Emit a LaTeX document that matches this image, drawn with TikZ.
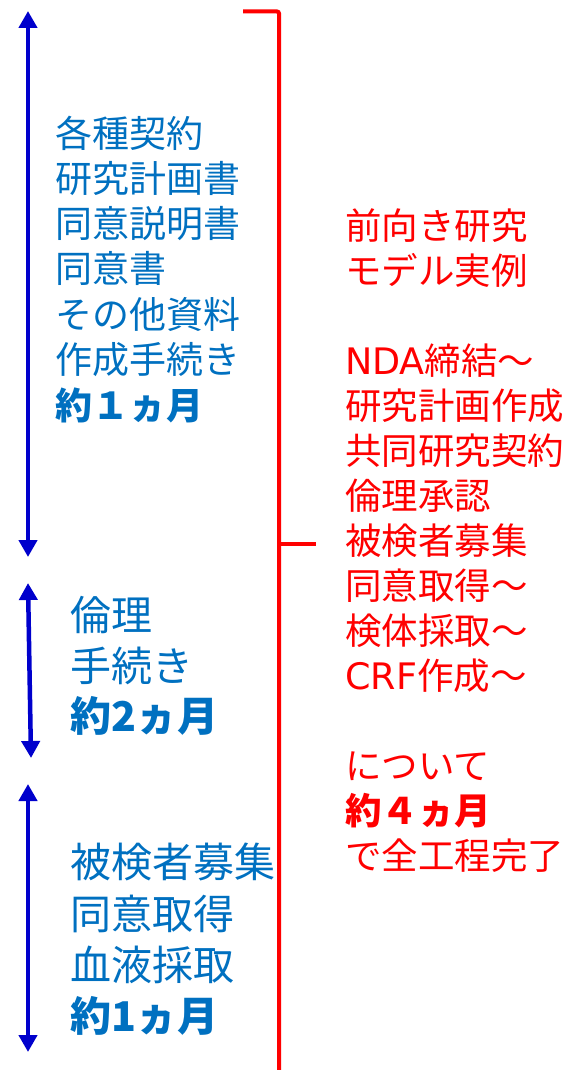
\documentclass[tikz,border=0pt]{standalone}
\usepackage{fontspec}
\newfontfamily\jp{Noto Sans CJK JP}
\newfontfamily\lat{DejaVu Sans}
\usetikzlibrary{arrows.meta}
\definecolor{arrowblue}{HTML}{0000CC}
\definecolor{textblue}{HTML}{0070C0}
\definecolor{bred}{HTML}{FF0000}
\newcommand{\fA}{\jp\fontsize{37}{37}\selectfont}
\newcommand{\fB}{\jp\fontsize{41}{41}\selectfont}
\newcommand{\fR}{\jp\fontsize{36.5}{36.5}\selectfont}
\begin{document}
\begin{tikzpicture}[x=1pt,y=-1pt,
  timearrow/.style={draw=arrowblue, line width=4.5pt,
    {Triangle[width=18pt,length=17pt]}-{Triangle[width=18pt,length=17pt]}},
  bluetxt/.style={text=textblue, inner sep=0pt, anchor=base west},
  redtxt/.style={text=bred, inner sep=0pt, anchor=base west, font=\fR},
  bracket/.style={draw=bred, line width=4pt}]
\useasboundingbox (0,0) rectangle (571,1070);

% blue arrows
\coordinate (a1t) at (28,11);
\coordinate (a1b) at (28,557);
\coordinate (a2t) at (28,583);
\coordinate (a2b) at (31,758);
\coordinate (a3t) at (28,784);
\coordinate (a3b) at (28,1052);
\draw[timearrow] (a1t) -- (a1b);
\draw[timearrow] (a2t) -- (a2b);
\draw[timearrow] (a3t) -- (a3b);

% red bracket
\coordinate (bl) at (243,11.5);
\coordinate (bc) at (279,11.5);
\coordinate (bm) at (279,544);
\coordinate (bt) at (316,544);
\coordinate (bb) at (279,1072);
\draw[bracket, rounded corners=2pt] (bl) -- (bc) -- (bb);
\draw[draw=bred, line width=3.3pt] (bm) -- (bt);

% block 1
\foreach \t [count=\i] in {各種契約,研究計画書,同意説明書,同意書,その他資料,作成手続き}
  \node[bluetxt, font=\fA] (p1-\i) at (55,{147+45.3*(\i-1)}) {\t};
\node[bluetxt, font=\fA\bfseries] (p1-7) at (55,419) {約１ヵ月};

% block 2
\node[bluetxt, font=\fB] (p2-1) at (70,630) {倫理};
\node[bluetxt, font=\fB] (p2-2) at (70,681) {手続き};
\node[bluetxt, font=\fB\bfseries] (p2-3) at (70,731) {約2ヵ月};

% block 3
\node[bluetxt, font=\fB] (p3-1) at (70,877) {被検者募集};
\node[bluetxt, font=\fB] (p3-2) at (70,929) {同意取得};
\node[bluetxt, font=\fB] (p3-3) at (70,980) {血液採取};
\node[bluetxt, font=\fB\bfseries] (p3-4) at (70,1031) {約1ヵ月};

% red text
\node[redtxt] (r1) at (345,239) {前向き研究};
\node[redtxt] (r2) at (345,284) {モデル実例};
\node[redtxt] (r3) at (345,374) {{\lat NDA}締結～};
\node[redtxt] (r4) at (345,419) {研究計画作成};
\node[redtxt] (r5) at (345,464) {共同研究契約};
\node[redtxt] (r6) at (345,509) {倫理承認};
\node[redtxt] (r7) at (345,554) {被検者募集};
\node[redtxt] (r8) at (345,599) {同意取得～};
\node[redtxt] (r9) at (345,644) {検体採取～};
\node[redtxt] (r10) at (345,689) {{\lat CRF}作成～};
\node[redtxt] (r11) at (345,779) {について};
\node[redtxt, font=\fR\bfseries] (r12) at (345,824) {約４ヵ月};
\node[redtxt] (r13) at (345,869) {で全工程完了};
\end{tikzpicture}
\end{document}
